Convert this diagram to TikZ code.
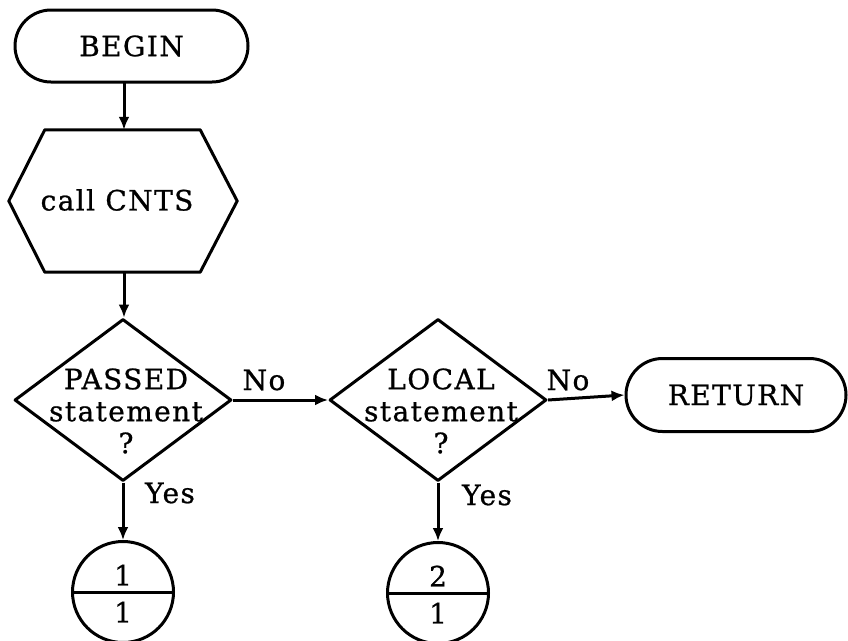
\documentclass[tikz,border=0pt]{standalone}
\usepackage{fontspec}
\setmainfont{DejaVu Serif}[LetterSpace=5,FakeBold=0.8]
\usetikzlibrary{shapes.geometric,shapes.misc,arrows.meta}

\begin{document}
\begin{tikzpicture}[x=1pt,y=-1pt,
  every node/.style={font=\fontsize{28}{32}\selectfont},
  line/.style={line width=3pt, line join=round},
  flow/.style={line, -{Latex[length=13pt,width=11pt]}},
  terminal/.style={line, draw, rounded rectangle, inner sep=0pt},
  decision/.style={line, draw, diamond, inner sep=0pt, minimum width=217pt, minimum height=162pt},
  connector/.style={line, draw, circle, inner sep=0pt, minimum size=101pt},
  caption/.style={inner sep=0pt, align=center},
  lbl/.style={inner sep=0pt}
]
\useasboundingbox (0,0) rectangle (848,640);

% terminals
\node[terminal, minimum width=233pt, minimum height=72pt] (begin) at (131.5,46) {BEGIN};
\node[terminal, minimum width=220pt, minimum height=73pt] (ret) at (736,395) {RETURN};

% predefined process (hexagon drawn around a plain box)
\node[inner sep=0pt, minimum width=155pt, minimum height=142pt] (call) at (122.5,201) {};
\draw[line] (call.north west) -- (call.north east) -- ([xshift=37pt]call.east)
  -- (call.south east) -- (call.south west) -- ([xshift=-36pt]call.west) -- cycle;
\node[caption] (callt) at (117,200) {call CNTS};

% decisions
\node[decision] (d1) at (123,400) {};
\node[caption] (d1t) at (126,411) {PASSED\\statement\\?};
\node[decision] (d2) at (438,400) {};
\node[caption] (d2t) at (441,411) {LOCAL\\statement\\?};

% off-page connectors
\node[connector] (c1) at (123,592) {};
\draw[line] (c1.west) -- (c1.east);
\node[lbl] (c1a) at (123,575) {1};
\node[lbl] (c1b) at (123,612) {1};

\node[connector] (c2) at (438,593) {};
\draw[line] (c2.west) -- (c2.east);
\node[lbl] (c2a) at (438,576) {2};
\node[lbl] (c2b) at (438,613) {1};

% flow lines
\draw[flow] (call.north -| 124,0) ++(0,-48) -- (call.north -| 124,0);
\draw[flow] (call.south -| 124,0) -- (d1.north -| 124,0);
\draw[flow] (d1.east) -- (d2.west);
\draw[flow] (d2.east) -- (ret.west);
\draw[flow] (d1.south) -- (c1.north);
\draw[flow] (d2.south) -- (c2.north);

% branch labels
\node[lbl] (no1) at (264,380) {No};
\node[lbl] (no2) at (568,380) {No};
\node[lbl] (yes1) at (170,493) {Yes};
\node[lbl] (yes2) at (487,495) {Yes};
\end{tikzpicture}
\end{document}
